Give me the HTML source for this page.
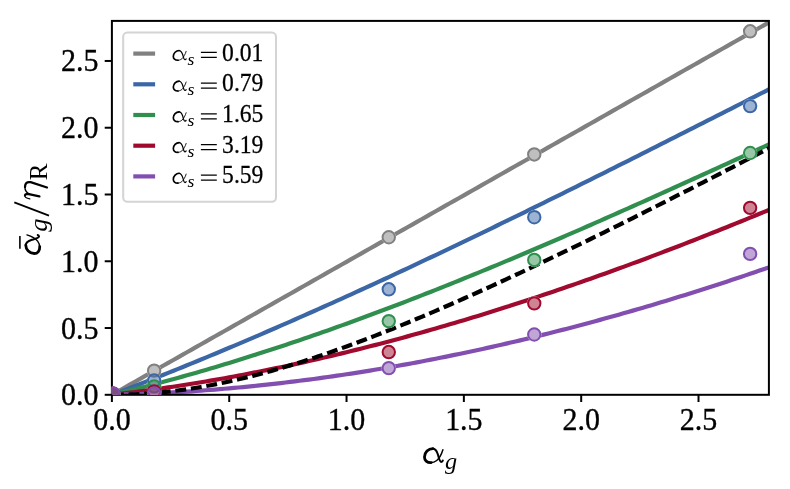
<!DOCTYPE html><html><head><meta charset="utf-8"><style>html,body{margin:0;padding:0;background:#fff}svg{display:block}text{font-family:"Liberation Serif",serif;fill:#000}</style></head><body>
<svg width="790" height="489" viewBox="0 0 790 489">
<rect width="790" height="489" fill="#fff"/>
<defs><clipPath id="ax"><rect x="111.9" y="20.9" width="657.0" height="373.90000000000003"/></clipPath></defs>
<g clip-path="url(#ax)" fill="none">
<path d="M111.90,394.80 L116.59,392.14 L121.29,389.48 L125.98,386.82 L130.67,384.16 L135.36,381.50 L140.06,378.84 L144.75,376.18 L149.44,373.52 L154.14,370.86 L158.83,368.20 L163.52,365.54 L168.21,362.88 L172.91,360.22 L177.60,357.56 L182.29,354.90 L186.99,352.24 L191.68,349.58 L196.37,346.92 L201.06,344.26 L205.76,341.60 L210.45,338.94 L215.14,336.28 L219.84,333.62 L224.53,330.96 L229.22,328.30 L233.91,325.64 L238.61,322.98 L243.30,320.32 L247.99,317.66 L252.69,315.00 L257.38,312.34 L262.07,309.68 L266.76,307.02 L271.46,304.36 L276.15,301.70 L280.84,299.04 L285.54,296.38 L290.23,293.72 L294.92,291.06 L299.61,288.40 L304.31,285.74 L309.00,283.08 L313.69,280.42 L318.39,277.76 L323.08,275.10 L327.77,272.44 L332.46,269.78 L337.16,267.12 L341.85,264.46 L346.54,261.80 L351.24,259.14 L355.93,256.48 L360.62,253.82 L365.31,251.16 L370.01,248.50 L374.70,245.84 L379.39,243.18 L384.09,240.52 L388.78,237.86 L393.47,235.20 L398.16,232.54 L402.86,229.88 L407.55,227.22 L412.24,224.56 L416.94,221.90 L421.63,219.24 L426.32,216.58 L431.01,213.92 L435.71,211.26 L440.40,208.60 L445.09,205.94 L449.79,203.28 L454.48,200.62 L459.17,197.96 L463.86,195.30 L468.56,192.64 L473.25,189.98 L477.94,187.32 L482.64,184.66 L487.33,182.00 L492.02,179.34 L496.71,176.68 L501.41,174.02 L506.10,171.36 L510.79,168.70 L515.49,166.04 L520.18,163.38 L524.87,160.72 L529.56,158.06 L534.26,155.40 L538.95,152.74 L543.64,150.08 L548.34,147.42 L553.03,144.76 L557.72,142.10 L562.41,139.44 L567.11,136.78 L571.80,134.12 L576.49,131.46 L581.19,128.80 L585.88,126.14 L590.57,123.48 L595.26,120.82 L599.96,118.16 L604.65,115.50 L609.34,112.84 L614.04,110.18 L618.73,107.52 L623.42,104.86 L628.11,102.20 L632.81,99.54 L637.50,96.88 L642.19,94.22 L646.89,91.56 L651.58,88.90 L656.27,86.24 L660.96,83.58 L665.66,80.92 L670.35,78.26 L675.04,75.60 L679.74,72.94 L684.43,70.28 L689.12,67.62 L693.81,64.96 L698.51,62.30 L703.20,59.64 L707.89,56.98 L712.59,54.32 L717.28,51.66 L721.97,49.00 L726.66,46.34 L731.36,43.68 L736.05,41.02 L740.74,38.36 L745.44,35.70 L750.13,33.04 L754.82,30.38 L759.51,27.72 L764.21,25.06 L768.90,22.40" stroke="#808080" stroke-width="4.2" stroke-linejoin="round"/>
<path d="M111.90,394.80 L116.59,393.02 L121.29,391.22 L125.98,389.42 L130.67,387.61 L135.36,385.79 L140.06,383.97 L144.75,382.14 L149.44,380.29 L154.14,378.44 L158.83,376.59 L163.52,374.72 L168.21,372.85 L172.91,370.96 L177.60,369.08 L182.29,367.18 L186.99,365.27 L191.68,363.36 L196.37,361.44 L201.06,359.52 L205.76,357.58 L210.45,355.64 L215.14,353.69 L219.84,351.74 L224.53,349.77 L229.22,347.80 L233.91,345.83 L238.61,343.84 L243.30,341.85 L247.99,339.86 L252.69,337.85 L257.38,335.84 L262.07,333.82 L266.76,331.80 L271.46,329.77 L276.15,327.73 L280.84,325.69 L285.54,323.64 L290.23,321.58 L294.92,319.52 L299.61,317.45 L304.31,315.37 L309.00,313.29 L313.69,311.21 L318.39,309.11 L323.08,307.01 L327.77,304.91 L332.46,302.80 L337.16,300.68 L341.85,298.56 L346.54,296.43 L351.24,294.30 L355.93,292.16 L360.62,290.02 L365.31,287.87 L370.01,285.72 L374.70,283.56 L379.39,281.39 L384.09,279.22 L388.78,277.05 L393.47,274.87 L398.16,272.68 L402.86,270.49 L407.55,268.30 L412.24,266.10 L416.94,263.89 L421.63,261.68 L426.32,259.47 L431.01,257.25 L435.71,255.03 L440.40,252.80 L445.09,250.57 L449.79,248.33 L454.48,246.09 L459.17,243.85 L463.86,241.60 L468.56,239.35 L473.25,237.09 L477.94,234.83 L482.64,232.57 L487.33,230.30 L492.02,228.03 L496.71,225.75 L501.41,223.47 L506.10,221.19 L510.79,218.91 L515.49,216.62 L520.18,214.32 L524.87,212.03 L529.56,209.73 L534.26,207.42 L538.95,205.12 L543.64,202.81 L548.34,200.49 L553.03,198.18 L557.72,195.86 L562.41,193.54 L567.11,191.21 L571.80,188.89 L576.49,186.56 L581.19,184.22 L585.88,181.89 L590.57,179.55 L595.26,177.21 L599.96,174.87 L604.65,172.52 L609.34,170.18 L614.04,167.83 L618.73,165.48 L623.42,163.12 L628.11,160.77 L632.81,158.41 L637.50,156.05 L642.19,153.69 L646.89,151.32 L651.58,148.96 L656.27,146.59 L660.96,144.22 L665.66,141.85 L670.35,139.48 L675.04,137.10 L679.74,134.73 L684.43,132.35 L689.12,129.97 L693.81,127.59 L698.51,125.21 L703.20,122.83 L707.89,120.45 L712.59,118.07 L717.28,115.68 L721.97,113.30 L726.66,110.91 L731.36,108.52 L736.05,106.14 L740.74,103.75 L745.44,101.36 L750.13,98.97 L754.82,96.58 L759.51,94.19 L764.21,91.80 L768.90,89.40" stroke="#3c67a7" stroke-width="4.2" stroke-linejoin="round"/>
<path d="M111.90,394.80 L116.59,393.68 L121.29,392.56 L125.98,391.41 L130.67,390.25 L135.36,389.08 L140.06,387.90 L144.75,386.70 L149.44,385.49 L154.14,384.26 L158.83,383.03 L163.52,381.77 L168.21,380.51 L172.91,379.23 L177.60,377.94 L182.29,376.64 L186.99,375.32 L191.68,373.99 L196.37,372.65 L201.06,371.30 L205.76,369.93 L210.45,368.56 L215.14,367.16 L219.84,365.76 L224.53,364.35 L229.22,362.92 L233.91,361.48 L238.61,360.03 L243.30,358.57 L247.99,357.10 L252.69,355.62 L257.38,354.12 L262.07,352.61 L266.76,351.10 L271.46,349.57 L276.15,348.03 L280.84,346.48 L285.54,344.92 L290.23,343.34 L294.92,341.76 L299.61,340.17 L304.31,338.56 L309.00,336.95 L313.69,335.33 L318.39,333.69 L323.08,332.05 L327.77,330.40 L332.46,328.73 L337.16,327.06 L341.85,325.38 L346.54,323.68 L351.24,321.98 L355.93,320.27 L360.62,318.55 L365.31,316.82 L370.01,315.09 L374.70,313.34 L379.39,311.58 L384.09,309.82 L388.78,308.04 L393.47,306.26 L398.16,304.47 L402.86,302.67 L407.55,300.87 L412.24,299.05 L416.94,297.23 L421.63,295.40 L426.32,293.56 L431.01,291.71 L435.71,289.86 L440.40,287.99 L445.09,286.12 L449.79,284.25 L454.48,282.36 L459.17,280.47 L463.86,278.57 L468.56,276.67 L473.25,274.75 L477.94,272.83 L482.64,270.91 L487.33,268.97 L492.02,267.03 L496.71,265.09 L501.41,263.14 L506.10,261.18 L510.79,259.21 L515.49,257.24 L520.18,255.26 L524.87,253.28 L529.56,251.29 L534.26,249.30 L538.95,247.30 L543.64,245.29 L548.34,243.28 L553.03,241.27 L557.72,239.24 L562.41,237.22 L567.11,235.19 L571.80,233.15 L576.49,231.11 L581.19,229.06 L585.88,227.01 L590.57,224.96 L595.26,222.90 L599.96,220.83 L604.65,218.76 L609.34,216.69 L614.04,214.61 L618.73,212.53 L623.42,210.45 L628.11,208.36 L632.81,206.27 L637.50,204.17 L642.19,202.07 L646.89,199.97 L651.58,197.86 L656.27,195.75 L660.96,193.64 L665.66,191.52 L670.35,189.41 L675.04,187.28 L679.74,185.16 L684.43,183.03 L689.12,180.90 L693.81,178.77 L698.51,176.64 L703.20,174.50 L707.89,172.36 L712.59,170.22 L717.28,168.08 L721.97,165.93 L726.66,163.79 L731.36,161.64 L736.05,159.49 L740.74,157.34 L745.44,155.18 L750.13,153.03 L754.82,150.87 L759.51,148.72 L764.21,146.56 L768.90,144.40" stroke="#308f4e" stroke-width="4.2" stroke-linejoin="round"/>
<path d="M111.90,394.80 L116.59,394.26 L121.29,393.70 L125.98,393.14 L130.67,392.55 L135.36,391.96 L140.06,391.35 L144.75,390.73 L149.44,390.10 L154.14,389.45 L158.83,388.79 L163.52,388.12 L168.21,387.43 L172.91,386.73 L177.60,386.02 L182.29,385.29 L186.99,384.55 L191.68,383.80 L196.37,383.04 L201.06,382.27 L205.76,381.48 L210.45,380.68 L215.14,379.86 L219.84,379.04 L224.53,378.20 L229.22,377.35 L233.91,376.49 L238.61,375.61 L243.30,374.72 L247.99,373.82 L252.69,372.91 L257.38,371.99 L262.07,371.05 L266.76,370.11 L271.46,369.15 L276.15,368.18 L280.84,367.19 L285.54,366.20 L290.23,365.19 L294.92,364.17 L299.61,363.14 L304.31,362.10 L309.00,361.05 L313.69,359.99 L318.39,358.91 L323.08,357.82 L327.77,356.73 L332.46,355.62 L337.16,354.50 L341.85,353.36 L346.54,352.22 L351.24,351.07 L355.93,349.90 L360.62,348.73 L365.31,347.54 L370.01,346.34 L374.70,345.13 L379.39,343.91 L384.09,342.68 L388.78,341.44 L393.47,340.19 L398.16,338.93 L402.86,337.66 L407.55,336.37 L412.24,335.08 L416.94,333.77 L421.63,332.46 L426.32,331.14 L431.01,329.80 L435.71,328.46 L440.40,327.10 L445.09,325.74 L449.79,324.36 L454.48,322.98 L459.17,321.58 L463.86,320.17 L468.56,318.76 L473.25,317.33 L477.94,315.90 L482.64,314.46 L487.33,313.00 L492.02,311.54 L496.71,310.07 L501.41,308.58 L506.10,307.09 L510.79,305.59 L515.49,304.08 L520.18,302.56 L524.87,301.03 L529.56,299.49 L534.26,297.94 L538.95,296.38 L543.64,294.82 L548.34,293.24 L553.03,291.66 L557.72,290.07 L562.41,288.46 L567.11,286.85 L571.80,285.23 L576.49,283.61 L581.19,281.97 L585.88,280.32 L590.57,278.67 L595.26,277.01 L599.96,275.33 L604.65,273.65 L609.34,271.97 L614.04,270.27 L618.73,268.57 L623.42,266.85 L628.11,265.13 L632.81,263.40 L637.50,261.66 L642.19,259.92 L646.89,258.17 L651.58,256.40 L656.27,254.63 L660.96,252.86 L665.66,251.07 L670.35,249.28 L675.04,247.48 L679.74,245.67 L684.43,243.85 L689.12,242.03 L693.81,240.20 L698.51,238.36 L703.20,236.51 L707.89,234.66 L712.59,232.80 L717.28,230.93 L721.97,229.06 L726.66,227.18 L731.36,225.29 L736.05,223.39 L740.74,221.49 L745.44,219.57 L750.13,217.66 L754.82,215.73 L759.51,213.80 L764.21,211.86 L768.90,209.92" stroke="#a00a2e" stroke-width="4.2" stroke-linejoin="round"/>
<path d="M111.90,394.80 L116.59,394.70 L121.29,394.58 L125.98,394.45 L130.67,394.30 L135.36,394.15 L140.06,393.98 L144.75,393.80 L149.44,393.60 L154.14,393.40 L158.83,393.17 L163.52,392.94 L168.21,392.70 L172.91,392.44 L177.60,392.17 L182.29,391.88 L186.99,391.59 L191.68,391.28 L196.37,390.96 L201.06,390.62 L205.76,390.28 L210.45,389.92 L215.14,389.55 L219.84,389.17 L224.53,388.77 L229.22,388.36 L233.91,387.94 L238.61,387.51 L243.30,387.07 L247.99,386.61 L252.69,386.14 L257.38,385.66 L262.07,385.17 L266.76,384.66 L271.46,384.14 L276.15,383.62 L280.84,383.07 L285.54,382.52 L290.23,381.96 L294.92,381.38 L299.61,380.79 L304.31,380.19 L309.00,379.58 L313.69,378.96 L318.39,378.32 L323.08,377.67 L327.77,377.01 L332.46,376.34 L337.16,375.66 L341.85,374.97 L346.54,374.26 L351.24,373.55 L355.93,372.82 L360.62,372.08 L365.31,371.33 L370.01,370.56 L374.70,369.79 L379.39,369.01 L384.09,368.21 L388.78,367.40 L393.47,366.58 L398.16,365.75 L402.86,364.91 L407.55,364.06 L412.24,363.20 L416.94,362.32 L421.63,361.44 L426.32,360.54 L431.01,359.63 L435.71,358.71 L440.40,357.78 L445.09,356.84 L449.79,355.89 L454.48,354.93 L459.17,353.96 L463.86,352.97 L468.56,351.98 L473.25,350.97 L477.94,349.96 L482.64,348.93 L487.33,347.89 L492.02,346.85 L496.71,345.79 L501.41,344.72 L506.10,343.64 L510.79,342.55 L515.49,341.45 L520.18,340.34 L524.87,339.22 L529.56,338.09 L534.26,336.94 L538.95,335.79 L543.64,334.63 L548.34,333.46 L553.03,332.28 L557.72,331.08 L562.41,329.88 L567.11,328.67 L571.80,327.44 L576.49,326.21 L581.19,324.97 L585.88,323.71 L590.57,322.45 L595.26,321.18 L599.96,319.90 L604.65,318.60 L609.34,317.30 L614.04,315.99 L618.73,314.67 L623.42,313.33 L628.11,311.99 L632.81,310.64 L637.50,309.28 L642.19,307.91 L646.89,306.53 L651.58,305.14 L656.27,303.74 L660.96,302.33 L665.66,300.91 L670.35,299.48 L675.04,298.05 L679.74,296.60 L684.43,295.14 L689.12,293.68 L693.81,292.21 L698.51,290.72 L703.20,289.23 L707.89,287.73 L712.59,286.22 L717.28,284.69 L721.97,283.17 L726.66,281.63 L731.36,280.08 L736.05,278.52 L740.74,276.96 L745.44,275.38 L750.13,273.80 L754.82,272.21 L759.51,270.60 L764.21,268.99 L768.90,267.38" stroke="#824eb0" stroke-width="4.2" stroke-linejoin="round"/>
<path d="M111.90,394.80 L116.59,394.78 L121.29,394.71 L125.98,394.60 L130.67,394.44 L135.36,394.24 L140.06,394.00 L144.75,393.71 L149.44,393.38 L154.14,393.01 L158.83,392.59 L163.52,392.13 L168.21,391.63 L172.91,391.08 L177.60,390.50 L182.29,389.87 L186.99,389.20 L191.68,388.49 L196.37,387.74 L201.06,386.96 L205.76,386.13 L210.45,385.27 L215.14,384.37 L219.84,383.43 L224.53,382.46 L229.22,381.45 L233.91,380.40 L238.61,379.32 L243.30,378.21 L247.99,377.06 L252.69,375.89 L257.38,374.68 L262.07,373.43 L266.76,372.16 L271.46,370.86 L276.15,369.53 L280.84,368.17 L285.54,366.78 L290.23,365.37 L294.92,363.92 L299.61,362.45 L304.31,360.96 L309.00,359.44 L313.69,357.90 L318.39,356.33 L323.08,354.74 L327.77,353.13 L332.46,351.49 L337.16,349.83 L341.85,348.15 L346.54,346.45 L351.24,344.73 L355.93,342.99 L360.62,341.24 L365.31,339.46 L370.01,337.66 L374.70,335.85 L379.39,334.02 L384.09,332.17 L388.78,330.31 L393.47,328.43 L398.16,326.53 L402.86,324.62 L407.55,322.69 L412.24,320.75 L416.94,318.79 L421.63,316.82 L426.32,314.84 L431.01,312.85 L435.71,310.84 L440.40,308.82 L445.09,306.78 L449.79,304.74 L454.48,302.68 L459.17,300.61 L463.86,298.53 L468.56,296.44 L473.25,294.34 L477.94,292.23 L482.64,290.10 L487.33,287.97 L492.02,285.83 L496.71,283.68 L501.41,281.52 L506.10,279.35 L510.79,277.17 L515.49,274.99 L520.18,272.79 L524.87,270.59 L529.56,268.38 L534.26,266.16 L538.95,263.93 L543.64,261.70 L548.34,259.46 L553.03,257.21 L557.72,254.96 L562.41,252.70 L567.11,250.43 L571.80,248.15 L576.49,245.87 L581.19,243.59 L585.88,241.29 L590.57,238.99 L595.26,236.69 L599.96,234.38 L604.65,232.06 L609.34,229.74 L614.04,227.41 L618.73,225.08 L623.42,222.75 L628.11,220.40 L632.81,218.06 L637.50,215.70 L642.19,213.35 L646.89,210.99 L651.58,208.62 L656.27,206.25 L660.96,203.88 L665.66,201.50 L670.35,199.12 L675.04,196.73 L679.74,194.34 L684.43,191.94 L689.12,189.55 L693.81,187.14 L698.51,184.74 L703.20,182.33 L707.89,179.91 L712.59,177.50 L717.28,175.08 L721.97,172.65 L726.66,170.23 L731.36,167.80 L736.05,165.37 L740.74,162.93 L745.44,160.49 L750.13,158.05 L754.82,155.60 L759.51,153.16 L764.21,150.71 L768.90,148.25" stroke="#000" stroke-width="4.2" stroke-dasharray="10.9 4.76" stroke-dashoffset="-1.0"/>
</g>
<rect x="111.9" y="20.9" width="657.0" height="373.90000000000003" fill="none" stroke="#000" stroke-width="2.0"/>
<g clip-path="url(#ax)" fill="none">
<circle cx="113.07" cy="393.60" r="7.2" fill="#fff"/>
<circle cx="154.14" cy="370.63" r="7.2" fill="#fff"/>
<circle cx="388.78" cy="237.23" r="7.2" fill="#fff"/>
<circle cx="534.26" cy="154.44" r="7.2" fill="#fff"/>
<circle cx="750.13" cy="31.32" r="7.2" fill="#fff"/>
<circle cx="113.07" cy="393.60" r="7.2" fill="#fff"/>
<circle cx="154.14" cy="380.51" r="7.2" fill="#fff"/>
<circle cx="388.78" cy="289.31" r="7.2" fill="#fff"/>
<circle cx="534.26" cy="217.20" r="7.2" fill="#fff"/>
<circle cx="750.13" cy="106.10" r="7.2" fill="#fff"/>
<circle cx="113.07" cy="393.60" r="7.2" fill="#fff"/>
<circle cx="154.14" cy="386.39" r="7.2" fill="#fff"/>
<circle cx="388.78" cy="321.09" r="7.2" fill="#fff"/>
<circle cx="534.26" cy="259.93" r="7.2" fill="#fff"/>
<circle cx="750.13" cy="152.97" r="7.2" fill="#fff"/>
<circle cx="113.07" cy="393.60" r="7.2" fill="#fff"/>
<circle cx="154.14" cy="391.33" r="7.2" fill="#fff"/>
<circle cx="388.78" cy="352.07" r="7.2" fill="#fff"/>
<circle cx="534.26" cy="303.33" r="7.2" fill="#fff"/>
<circle cx="750.13" cy="207.85" r="7.2" fill="#fff"/>
<circle cx="113.07" cy="393.60" r="7.2" fill="#fff"/>
<circle cx="154.14" cy="393.33" r="7.2" fill="#fff"/>
<circle cx="388.78" cy="368.09" r="7.2" fill="#fff"/>
<circle cx="534.26" cy="334.51" r="7.2" fill="#fff"/>
<circle cx="750.13" cy="253.92" r="7.2" fill="#fff"/>
<circle cx="113.07" cy="393.60" r="6.2" fill="#808080" fill-opacity="0.5" stroke="#808080" stroke-width="2"/>
<circle cx="154.14" cy="370.63" r="6.2" fill="#808080" fill-opacity="0.5" stroke="#808080" stroke-width="2"/>
<circle cx="388.78" cy="237.23" r="6.2" fill="#808080" fill-opacity="0.5" stroke="#808080" stroke-width="2"/>
<circle cx="534.26" cy="154.44" r="6.2" fill="#808080" fill-opacity="0.5" stroke="#808080" stroke-width="2"/>
<circle cx="750.13" cy="31.32" r="6.2" fill="#808080" fill-opacity="0.5" stroke="#808080" stroke-width="2"/>
<circle cx="113.07" cy="393.60" r="6.2" fill="#3c67a7" fill-opacity="0.5" stroke="#3c67a7" stroke-width="2"/>
<circle cx="154.14" cy="380.51" r="6.2" fill="#3c67a7" fill-opacity="0.5" stroke="#3c67a7" stroke-width="2"/>
<circle cx="388.78" cy="289.31" r="6.2" fill="#3c67a7" fill-opacity="0.5" stroke="#3c67a7" stroke-width="2"/>
<circle cx="534.26" cy="217.20" r="6.2" fill="#3c67a7" fill-opacity="0.5" stroke="#3c67a7" stroke-width="2"/>
<circle cx="750.13" cy="106.10" r="6.2" fill="#3c67a7" fill-opacity="0.5" stroke="#3c67a7" stroke-width="2"/>
<circle cx="113.07" cy="393.60" r="6.2" fill="#308f4e" fill-opacity="0.5" stroke="#308f4e" stroke-width="2"/>
<circle cx="154.14" cy="386.39" r="6.2" fill="#308f4e" fill-opacity="0.5" stroke="#308f4e" stroke-width="2"/>
<circle cx="388.78" cy="321.09" r="6.2" fill="#308f4e" fill-opacity="0.5" stroke="#308f4e" stroke-width="2"/>
<circle cx="534.26" cy="259.93" r="6.2" fill="#308f4e" fill-opacity="0.5" stroke="#308f4e" stroke-width="2"/>
<circle cx="750.13" cy="152.97" r="6.2" fill="#308f4e" fill-opacity="0.5" stroke="#308f4e" stroke-width="2"/>
<circle cx="113.07" cy="393.60" r="6.2" fill="#a00a2e" fill-opacity="0.5" stroke="#a00a2e" stroke-width="2"/>
<circle cx="154.14" cy="391.33" r="6.2" fill="#a00a2e" fill-opacity="0.5" stroke="#a00a2e" stroke-width="2"/>
<circle cx="388.78" cy="352.07" r="6.2" fill="#a00a2e" fill-opacity="0.5" stroke="#a00a2e" stroke-width="2"/>
<circle cx="534.26" cy="303.33" r="6.2" fill="#a00a2e" fill-opacity="0.5" stroke="#a00a2e" stroke-width="2"/>
<circle cx="750.13" cy="207.85" r="6.2" fill="#a00a2e" fill-opacity="0.5" stroke="#a00a2e" stroke-width="2"/>
<circle cx="113.07" cy="393.60" r="6.2" fill="#824eb0" fill-opacity="0.5" stroke="#824eb0" stroke-width="2"/>
<circle cx="154.14" cy="393.33" r="6.2" fill="#824eb0" fill-opacity="0.5" stroke="#824eb0" stroke-width="2"/>
<circle cx="388.78" cy="368.09" r="6.2" fill="#824eb0" fill-opacity="0.5" stroke="#824eb0" stroke-width="2"/>
<circle cx="534.26" cy="334.51" r="6.2" fill="#824eb0" fill-opacity="0.5" stroke="#824eb0" stroke-width="2"/>
<circle cx="750.13" cy="253.92" r="6.2" fill="#824eb0" fill-opacity="0.5" stroke="#824eb0" stroke-width="2"/>
</g>
<g opacity="0.999">
<line x1="111.90" y1="394.8" x2="111.90" y2="402.0" stroke="#000" stroke-width="2.0"/>
<line x1="111.9" y1="394.80" x2="104.7" y2="394.80" stroke="#000" stroke-width="2.0"/>
<text transform="translate(111.90,429.7) scale(1,1.03)" font-size="30" text-anchor="middle" stroke="#000" stroke-width="0.35">0.0</text>
<text transform="translate(98.4,405.30) scale(1,1.03)" font-size="30" text-anchor="end" stroke="#000" stroke-width="0.35">0.0</text>
<line x1="229.22" y1="394.8" x2="229.22" y2="402.0" stroke="#000" stroke-width="2.0"/>
<line x1="111.9" y1="328.03" x2="104.7" y2="328.03" stroke="#000" stroke-width="2.0"/>
<text transform="translate(229.22,429.7) scale(1,1.03)" font-size="30" text-anchor="middle" stroke="#000" stroke-width="0.35">0.5</text>
<text transform="translate(98.4,338.53) scale(1,1.03)" font-size="30" text-anchor="end" stroke="#000" stroke-width="0.35">0.5</text>
<line x1="346.54" y1="394.8" x2="346.54" y2="402.0" stroke="#000" stroke-width="2.0"/>
<line x1="111.9" y1="261.26" x2="104.7" y2="261.26" stroke="#000" stroke-width="2.0"/>
<text transform="translate(346.54,429.7) scale(1,1.03)" font-size="30" text-anchor="middle" stroke="#000" stroke-width="0.35">1.0</text>
<text transform="translate(98.4,271.76) scale(1,1.03)" font-size="30" text-anchor="end" stroke="#000" stroke-width="0.35">1.0</text>
<line x1="463.86" y1="394.8" x2="463.86" y2="402.0" stroke="#000" stroke-width="2.0"/>
<line x1="111.9" y1="194.50" x2="104.7" y2="194.50" stroke="#000" stroke-width="2.0"/>
<text transform="translate(463.86,429.7) scale(1,1.03)" font-size="30" text-anchor="middle" stroke="#000" stroke-width="0.35">1.5</text>
<text transform="translate(98.4,205.00) scale(1,1.03)" font-size="30" text-anchor="end" stroke="#000" stroke-width="0.35">1.5</text>
<line x1="581.19" y1="394.8" x2="581.19" y2="402.0" stroke="#000" stroke-width="2.0"/>
<line x1="111.9" y1="127.73" x2="104.7" y2="127.73" stroke="#000" stroke-width="2.0"/>
<text transform="translate(581.19,429.7) scale(1,1.03)" font-size="30" text-anchor="middle" stroke="#000" stroke-width="0.35">2.0</text>
<text transform="translate(98.4,138.23) scale(1,1.03)" font-size="30" text-anchor="end" stroke="#000" stroke-width="0.35">2.0</text>
<line x1="698.51" y1="394.8" x2="698.51" y2="402.0" stroke="#000" stroke-width="2.0"/>
<line x1="111.9" y1="60.96" x2="104.7" y2="60.96" stroke="#000" stroke-width="2.0"/>
<text transform="translate(698.51,429.7) scale(1,1.03)" font-size="30" text-anchor="middle" stroke="#000" stroke-width="0.35">2.5</text>
<text transform="translate(98.4,71.46) scale(1,1.03)" font-size="30" text-anchor="end" stroke="#000" stroke-width="0.35">2.5</text>
<g fill="none" stroke="#000" stroke-linecap="round" stroke-linejoin="round"><path d="M442.90,449.76 C441.63,453.84 439.18,458.47 436.73,460.51 C434.77,462.17 432.31,462.64 430.35,462.64" stroke-width="1.46"/><path d="M431.24,462.64 C426.73,462.73 424.47,460.32 424.47,457.08 C424.47,452.45 428.39,448.56 432.80,448.56" stroke-width="2.81"/><path d="M432.41,448.65 C435.75,448.46 437.02,451.52 438.00,454.76 C438.98,458.47 439.67,461.90 441.24,461.90 C442.12,461.90 442.61,461.34 442.81,460.60" stroke-width="2.05"/></g>
<text transform="translate(444.90,469.26) scale(0.2426,0.2353)" font-size="100" font-style="italic">g</text>
<g transform="translate(40.4,260) rotate(-90)">
<g fill="none" stroke="#000" stroke-linecap="round" stroke-linejoin="round"><path d="M25.10,-13.45 C23.81,-9.40 21.34,-4.80 18.86,-2.78 C16.88,-1.12 14.41,-0.66 12.43,-0.66" stroke-width="1.46"/><path d="M13.32,-0.66 C8.76,-0.57 6.49,-2.96 6.49,-6.18 C6.49,-10.78 10.45,-14.65 14.90,-14.65" stroke-width="2.81"/><path d="M14.51,-14.56 C17.87,-14.74 19.16,-11.70 20.15,-8.48 C21.14,-4.80 21.83,-1.40 23.42,-1.40 C24.31,-1.40 24.80,-1.95 25.00,-2.68" stroke-width="2.05"/></g>
<text transform="translate(28.20,6.59) scale(0.2660,0.2529)" font-size="100" font-style="italic">g</text>
<g fill="none" stroke="#000" stroke-linecap="round" stroke-linejoin="round"><path d="M61.10,-10.60 C61.60,-13.50 63.00,-15.70 64.60,-15.60" stroke-width="1.30"/><path d="M64.60,-15.40 C66.20,-15.20 66.20,-13.50 65.80,-11.50 L63.60,-1.00" stroke-width="2.30"/><path d="M65.60,-10.50 C67.10,-13.50 70.10,-15.50 73.10,-15.50" stroke-width="1.40"/><path d="M72.90,-15.40 C76.90,-15.40 78.50,-13.30 77.80,-9.80 L72.50,6.60" stroke-width="2.30"/></g>
<text transform="translate(79.65,6.70) scale(0.2500,0.2600)" font-size="100" font-style="normal">R</text>
</g>
<line x1="14.3" y1="202.4" x2="49" y2="215.6" stroke="#000" stroke-width="1.8"/>
<line x1="19.9" y1="236.1" x2="19.9" y2="248.7" stroke="#000" stroke-width="1.6"/>
<rect x="123.2" y="32.5" width="152.8" height="169.2" rx="4.2" fill="#fff" fill-opacity="0.8" stroke="#d4d4d4" stroke-width="2.05"/>
<line x1="133.3" y1="53.60" x2="155.1" y2="53.60" stroke="#808080" stroke-width="4.2"/>
<g fill="none" stroke="#000" stroke-linecap="round" stroke-linejoin="round"><path d="M186.16,51.32 C185.28,54.16 183.57,57.38 181.86,58.80 C180.50,59.96 178.79,60.28 177.42,60.28" stroke-width="0.86"/><path d="M178.04,60.28 C174.90,60.34 173.32,58.67 173.32,56.41 C173.32,53.19 176.06,50.49 179.13,50.49" stroke-width="1.66"/><path d="M178.86,50.55 C181.18,50.42 182.07,52.55 182.75,54.80 C183.43,57.38 183.91,59.76 185.00,59.76 C185.62,59.76 185.96,59.38 186.10,58.86" stroke-width="1.22"/></g>
<text transform="translate(187.62,64.64) scale(0.1771,0.1583)" font-size="100" font-style="italic">s</text>
<path d="M200.9,52.40h15.9M200.9,57.40h15.9" stroke="#000" stroke-width="1.25" fill="none"/>
<text transform="translate(222.1,60.50) scale(1,1.09)" font-size="23.6" stroke="#000" stroke-width="0.25">0.01</text>
<line x1="133.3" y1="84.30" x2="155.1" y2="84.30" stroke="#3c67a7" stroke-width="4.2"/>
<g fill="none" stroke="#000" stroke-linecap="round" stroke-linejoin="round"><path d="M186.16,82.02 C185.28,84.86 183.57,88.08 181.86,89.50 C180.50,90.66 178.79,90.98 177.42,90.98" stroke-width="0.86"/><path d="M178.04,90.98 C174.90,91.04 173.32,89.37 173.32,87.11 C173.32,83.89 176.06,81.19 179.13,81.19" stroke-width="1.66"/><path d="M178.86,81.25 C181.18,81.12 182.07,83.25 182.75,85.50 C183.43,88.08 183.91,90.46 185.00,90.46 C185.62,90.46 185.96,90.08 186.10,89.56" stroke-width="1.22"/></g>
<text transform="translate(187.62,95.34) scale(0.1771,0.1583)" font-size="100" font-style="italic">s</text>
<path d="M200.9,83.10h15.9M200.9,88.10h15.9" stroke="#000" stroke-width="1.25" fill="none"/>
<text transform="translate(222.1,91.20) scale(1,1.09)" font-size="23.6" stroke="#000" stroke-width="0.25">0.79</text>
<line x1="133.3" y1="115.00" x2="155.1" y2="115.00" stroke="#308f4e" stroke-width="4.2"/>
<g fill="none" stroke="#000" stroke-linecap="round" stroke-linejoin="round"><path d="M186.16,112.72 C185.28,115.56 183.57,118.78 181.86,120.20 C180.50,121.36 178.79,121.68 177.42,121.68" stroke-width="0.86"/><path d="M178.04,121.68 C174.90,121.74 173.32,120.07 173.32,117.81 C173.32,114.59 176.06,111.89 179.13,111.89" stroke-width="1.66"/><path d="M178.86,111.95 C181.18,111.82 182.07,113.95 182.75,116.20 C183.43,118.78 183.91,121.16 185.00,121.16 C185.62,121.16 185.96,120.78 186.10,120.26" stroke-width="1.22"/></g>
<text transform="translate(187.62,126.04) scale(0.1771,0.1583)" font-size="100" font-style="italic">s</text>
<path d="M200.9,113.80h15.9M200.9,118.80h15.9" stroke="#000" stroke-width="1.25" fill="none"/>
<text transform="translate(222.1,121.90) scale(1,1.09)" font-size="23.6" stroke="#000" stroke-width="0.25">1.65</text>
<line x1="133.3" y1="145.70" x2="155.1" y2="145.70" stroke="#a00a2e" stroke-width="4.2"/>
<g fill="none" stroke="#000" stroke-linecap="round" stroke-linejoin="round"><path d="M186.16,143.42 C185.28,146.26 183.57,149.48 181.86,150.90 C180.50,152.06 178.79,152.38 177.42,152.38" stroke-width="0.86"/><path d="M178.04,152.38 C174.90,152.44 173.32,150.77 173.32,148.51 C173.32,145.29 176.06,142.59 179.13,142.59" stroke-width="1.66"/><path d="M178.86,142.65 C181.18,142.52 182.07,144.65 182.75,146.90 C183.43,149.48 183.91,151.86 185.00,151.86 C185.62,151.86 185.96,151.48 186.10,150.96" stroke-width="1.22"/></g>
<text transform="translate(187.62,156.74) scale(0.1771,0.1583)" font-size="100" font-style="italic">s</text>
<path d="M200.9,144.50h15.9M200.9,149.50h15.9" stroke="#000" stroke-width="1.25" fill="none"/>
<text transform="translate(222.1,152.60) scale(1,1.09)" font-size="23.6" stroke="#000" stroke-width="0.25">3.19</text>
<line x1="133.3" y1="176.40" x2="155.1" y2="176.40" stroke="#824eb0" stroke-width="4.2"/>
<g fill="none" stroke="#000" stroke-linecap="round" stroke-linejoin="round"><path d="M186.16,174.12 C185.28,176.96 183.57,180.18 181.86,181.60 C180.50,182.76 178.79,183.08 177.42,183.08" stroke-width="0.86"/><path d="M178.04,183.08 C174.90,183.14 173.32,181.47 173.32,179.21 C173.32,175.99 176.06,173.29 179.13,173.29" stroke-width="1.66"/><path d="M178.86,173.35 C181.18,173.22 182.07,175.35 182.75,177.60 C183.43,180.18 183.91,182.56 185.00,182.56 C185.62,182.56 185.96,182.18 186.10,181.66" stroke-width="1.22"/></g>
<text transform="translate(187.62,187.44) scale(0.1771,0.1583)" font-size="100" font-style="italic">s</text>
<path d="M200.9,175.20h15.9M200.9,180.20h15.9" stroke="#000" stroke-width="1.25" fill="none"/>
<text transform="translate(222.1,183.30) scale(1,1.09)" font-size="23.6" stroke="#000" stroke-width="0.25">5.59</text>
</g>
</svg></body></html>
